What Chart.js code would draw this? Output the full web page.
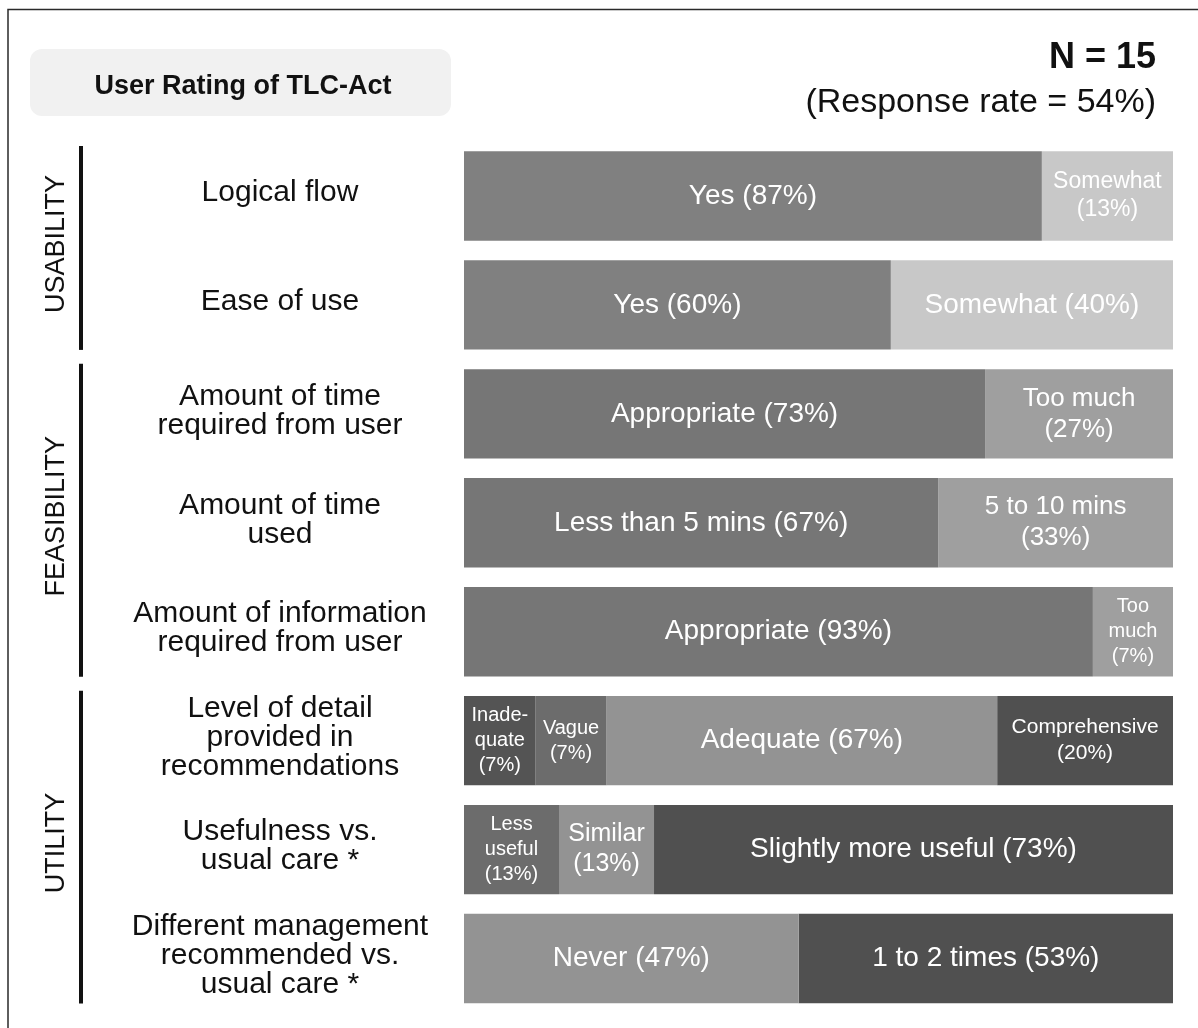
<!DOCTYPE html>
<html>
<head>
<meta charset="utf-8">
<title>User Rating of TLC-Act</title>
<script src="https://cdn.jsdelivr.net/npm/chart.js"></script>
<style>
    body { margin: 0; background: #fff; }
    #wrap { position: relative; width: 1198px; height: 1028px; }
</style>
</head>
<body>
<div id="wrap"><canvas id="ratingChart" width="1198" height="1028"></canvas></div>
<script>
// DATA
const rowLabels = [
    ["Logical flow"],
    ["Ease of use"],
    ["Amount of time", "required from user"],
    ["Amount of time", "used"],
    ["Amount of information", "required from user"],
    ["Level of detail", "provided in", "recommendations"],
    ["Usefulness vs.", "usual care *"],
    ["Different management", "recommended vs.", "usual care *"]
];

const groupNames = ["USABILITY", "FEASIBILITY", "UTILITY"];
const groupFirstRow = [0, 2, 5];
const groupLastRow = [1, 4, 7];

// bar lengths as drawn (share of full bar, %)
const seg1Values = [81.5, 60.2, 73.5, 66.9, 88.7, 10.1, 13.4, 47.2];
const seg2Values = [18.5, 39.8, 26.5, 33.1, 11.3, 10.0, 13.4, 52.8];
const seg3Values = [null, null, null, null, null, 55.1, 73.2, null];
const seg4Values = [null, null, null, null, null, 24.8, null, null];

const seg1Text = [["Yes (87%)"], ["Yes (60%)"], ["Appropriate (73%)"], ["Less than 5 mins (67%)"],
    ["Appropriate (93%)"], ["Inade-", "quate", "(7%)"], ["Less", "useful", "(13%)"], ["Never (47%)"]];
const seg2Text = [["Somewhat", "(13%)"], ["Somewhat (40%)"], ["Too much", "(27%)"], ["5 to 10 mins", "(33%)"],
    ["Too", "much", "(7%)"], ["Vague", "(7%)"], ["Similar", "(13%)"], ["1 to 2 times (53%)"]];
const seg3Text = [null, null, null, null, null, ["Adequate (67%)"], ["Slightly more useful (73%)"], null];
const seg4Text = [null, null, null, null, null, ["Comprehensive", "(20%)"], null, null];

// COLOURS
const seg1Colors = ["#808080", "#808080", "#767676", "#767676", "#767676", "#545454", "#6c6c6c", "#939393"];
const seg2Colors = ["#c8c8c8", "#c8c8c8", "#9f9f9f", "#9f9f9f", "#9f9f9f", "#6c6c6c", "#939393", "#505050"];
const seg3Colors = ["#939393", "#939393", "#939393", "#939393", "#939393", "#939393", "#505050", "#939393"];
const seg4Colors = ["#505050", "#505050", "#505050", "#505050", "#505050", "#505050", "#505050", "#505050"];

const FONT = "'Liberation Sans', Arial, Helvetica, sans-serif";

// SEGMENT LABEL FONT SIZE
function labelSize(ctx, lines, segWidth) {
    let size = lines.length === 1 ? 28 : (lines.length === 2 ? 26 : 20);
    ctx.font = `${size}px ${FONT}`;
    const widest = Math.max(...lines.map(l => ctx.measureText(l).width));
    const room = segWidth - Math.min(22, segWidth * 0.18);
    if (widest > room) size = Math.floor(size * room / widest);
    return size;
}

// PLUGIN: FRAME, HEADER, ROW + GROUP LABELS, SEGMENT LABELS
const decorPlugin = {
    id: "decor",
    beforeDraw(chart) {
        const ctx = chart.ctx;
        ctx.save();
        // outer frame
        ctx.strokeStyle = "#2a2a2a";
        ctx.lineWidth = 1.5;
        ctx.beginPath();
        ctx.moveTo(8, 1028);
        ctx.lineTo(8, 9.5);
        ctx.lineTo(1198, 9.5);
        ctx.stroke();

        // title box
        ctx.fillStyle = "#f1f1f1";
        ctx.beginPath();
        ctx.roundRect(30, 49, 421, 67, 12);
        ctx.fill();
        ctx.fillStyle = "#111";
        ctx.font = `bold 27px ${FONT}`;
        ctx.textAlign = "center";
        ctx.textBaseline = "middle";
        ctx.fillText("User Rating of TLC-Act", 243, 87);

        // N
        ctx.textAlign = "right";
        ctx.textBaseline = "alphabetic";
        ctx.font = `bold 36px ${FONT}`;
        ctx.fillText("N = 15", 1156, 68);
        ctx.font = `34px ${FONT}`;
        ctx.fillText("(Response rate = 54%)", 1156, 112);
        ctx.restore();
    },
    afterDatasetsDraw(chart) {
        const ctx = chart.ctx;
        const yScale = chart.scales.y;
        ctx.save();

        // row labels
        ctx.fillStyle = "#111";
        ctx.font = `30px ${FONT}`;
        ctx.textAlign = "center";
        ctx.textBaseline = "middle";
        rowLabels.forEach((lines, i) => {
            const yc = yScale.getPixelForValue(i);
            const lh = 29;
            lines.forEach((line, k) => {
                ctx.fillText(line, 280, yc - 3 + (k - (lines.length - 1) / 2) * lh);
            });
        });

        // group labels + vertical rules
        groupNames.forEach((name, g) => {
            const top = yScale.getPixelForValue(groupFirstRow[g]) - 50;
            const bottom = yScale.getPixelForValue(groupLastRow[g]) + 45;
            ctx.strokeStyle = "#111";
            ctx.lineWidth = 4;
            ctx.beginPath();
            ctx.moveTo(81, top);
            ctx.lineTo(81, bottom);
            ctx.stroke();

            ctx.save();
            ctx.translate(57, (top + bottom) / 2 - 4);
            ctx.rotate(-Math.PI / 2);
            ctx.fillStyle = "#111";
            ctx.font = `27px ${FONT}`;
            ctx.textAlign = "center";
            ctx.textBaseline = "middle";
            ctx.fillText(name, 0, 0);
            ctx.restore();
        });

        // segment labels
        const texts = [seg1Text, seg2Text, seg3Text, seg4Text];
        ctx.fillStyle = "#ffffff";
        chart.data.datasets.forEach((ds, d) => {
            const meta = chart.getDatasetMeta(d);
            meta.data.forEach((bar, j) => {
                const lines = texts[d][j];
                if (!lines || ds.data[j] == null) return;
                const x0 = Math.min(bar.x, bar.base);
                const w = Math.abs(bar.x - bar.base);
                const size = labelSize(ctx, lines, w);
                ctx.font = `${size}px ${FONT}`;
                const lh = size + 5;
                lines.forEach((line, k) => {
                    ctx.fillText(line, x0 + w / 2, bar.y + (k - (lines.length - 1) / 2) * lh);
                });
            });
        });
        ctx.restore();
    }
};

// CHART
function makeSet(label, values, colors) {
    return { label, data: values, backgroundColor: colors, borderWidth: 0, borderSkipped: false };
}

const chart = new Chart(document.getElementById("ratingChart").getContext("2d"), {
    type: "bar",
    data: {
        labels: rowLabels.map(l => l.join(" ")),
        datasets: [
            makeSet("Segment 1", seg1Values, seg1Colors),
            makeSet("Segment 2", seg2Values, seg2Colors),
            makeSet("Segment 3", seg3Values, seg3Colors),
            makeSet("Segment 4", seg4Values, seg4Colors)
        ]
    },
    options: {
        indexAxis: "y",
        responsive: false,
        animation: false,
        categoryPercentage: 0.82,
        barPercentage: 1,
        layout: { padding: { left: 464, right: 25, top: 141.5, bottom: 15 } },
        scales: {
            x: { stacked: true, min: 0, max: 100, display: false },
            y: { stacked: true, display: false }
        },
        plugins: {
            legend: { display: false },
            tooltip: { enabled: false }
        }
    },
    plugins: [decorPlugin]
});
</script>
</body>
</html>
